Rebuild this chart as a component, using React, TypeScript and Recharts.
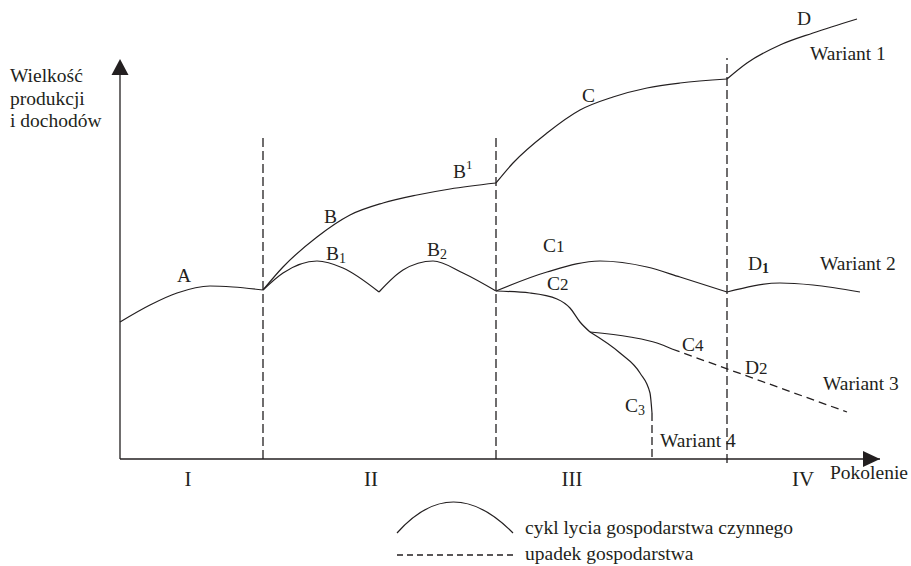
import React from 'react';
import { LineChart, Line, XAxis, YAxis, ReferenceLine, ReferenceDot } from 'recharts';

const phaseA = [
  { x: 0, y: 137 }, { x: 30, y: 154 }, { x: 57, y: 166 }, { x: 90, y: 173 }, { x: 113, y: 172 }, { x: 143, y: 169 },
];
const phaseB = [
  { x: 143, y: 169 }, { x: 163, y: 192 }, { x: 197, y: 222 }, { x: 230, y: 244 }, { x: 263, y: 256 },
  { x: 297, y: 264 }, { x: 330, y: 270 }, { x: 376, y: 276 },
];
const phaseC = [
  { x: 376, y: 276 }, { x: 393, y: 296 }, { x: 427, y: 326 }, { x: 460, y: 349 }, { x: 493, y: 362 },
  { x: 527, y: 371 }, { x: 560, y: 376 }, { x: 607, y: 380 },
];
const phaseD = [
  { x: 607, y: 380 }, { x: 627, y: 396 }, { x: 660, y: 414 }, { x: 693, y: 426 }, { x: 737, y: 440 },
];
const phaseB1 = [
  { x: 143, y: 169 }, { x: 163, y: 186 }, { x: 197, y: 198 }, { x: 223, y: 191 }, { x: 259, y: 167 },
];
const phaseB2 = [
  { x: 259, y: 167 }, { x: 283, y: 189 }, { x: 313, y: 198 }, { x: 343, y: 186 }, { x: 376, y: 168 },
];
const phaseC1 = [
  { x: 376, y: 168 }, { x: 427, y: 187 }, { x: 480, y: 198 }, { x: 527, y: 192 }, { x: 560, y: 182 }, { x: 607, y: 167 },
];
const phaseD1 = [
  { x: 607, y: 167 }, { x: 660, y: 176 }, { x: 693, y: 174 }, { x: 740, y: 167 },
];
const phaseC2 = [
  { x: 376, y: 168 }, { x: 410, y: 166 }, { x: 437, y: 160 }, { x: 450, y: 151 }, { x: 460, y: 137 }, { x: 470, y: 127 },
];
const phaseC4 = [
  { x: 470, y: 127 }, { x: 510, y: 122 }, { x: 537, y: 116 }, { x: 552, y: 110 },
];
const declineD2 = [
  { x: 552, y: 110 }, { x: 727, y: 47 },
];
const phaseC3 = [
  { x: 470, y: 127 }, { x: 500, y: 106 }, { x: 520, y: 86 }, { x: 530, y: 66 }, { x: 532, y: 46 },
];
const declineC3 = [
  { x: 532, y: 46 }, { x: 532, y: 0 },
];

// generation boundaries and their top ends
const boundaries = [
  { x: 143, top: 324 }, { x: 376, top: 324 }, { x: 607, top: 401 },
];
const phaseTicks = [68, 251, 452, 683];
const phaseNames = ['I', 'II', 'III', 'IV'];

const curveNames = [
  { x: 57, y: 177, text: 'A' },
  { x: 204, y: 236, text: 'B' },
  { x: 206, y: 199, text: 'B', sub: '1' },
  { x: 307, y: 203, text: 'B', sub: '2' },
  { x: 333, y: 281, text: 'B', sup: '1' },
  { x: 462, y: 357, text: 'C' },
  { x: 677, y: 434, text: 'D' },
  { x: 423, y: 207, text: 'C', tail: '1' },
  { x: 427, y: 169, text: 'C', tail: '2' },
  { x: 628, y: 189, text: 'D', sub: '1', bold: true },
  { x: 562, y: 108, text: 'C', tail: '4' },
  { x: 625, y: 85, text: 'D', tail: '2' },
  { x: 505, y: 47, text: 'C', sub: '3' },
  { x: 690, y: 399, text: 'Wariant 1' },
  { x: 700, y: 189, text: 'Wariant 2' },
  { x: 703, y: 69, text: 'Wariant 3' },
  { x: 540, y: 12, text: 'Wariant 4' },
];

const ink = '#231f20';
const serif = 'Liberation Serif, Times New Roman, DejaVu Serif, serif';

const UpArrow = ({ cx, cy }: any) => (
  <polygon points={`${cx},${cy} ${cx - 8.5},${cy + 16} ${cx + 8.5},${cy + 16}`} fill={ink} />
);
const RightArrow = ({ cx, cy }: any) => (
  <polygon points={`${cx},${cy} ${cx - 17},${cy - 8} ${cx - 17},${cy + 8}`} fill={ink} />
);

const nameShape = (n: any) => ({ cx, cy }: any) => (
  <text x={cx} y={cy} fill={ink} style={{ fontFamily: serif, fontSize: 19.5 }}>
    {n.text}
    {n.sub && <tspan fontSize={14} dy={3} fontWeight={n.bold ? 'bold' : 'normal'}>{n.sub}</tspan>}
    {n.sup && <tspan fontSize={13} dy={-9}>{n.sup}</tspan>}
    {n.tail && <tspan fontSize={17}>{n.tail}</tspan>}
  </text>
);

const PhaseTick = ({ x, y, payload }: any) => (
  <text x={x} y={y + 27} textAnchor="middle" fill={ink} style={{ fontFamily: serif, fontSize: 21 }}>
    {phaseNames[phaseTicks.indexOf(payload.value)]}
  </text>
);

const YTitle = () => (
  <text fill={ink} style={{ fontFamily: serif, fontSize: 19.5 }}>
    <tspan x={10} y={82}>Wielkość</tspan>
    <tspan x={10} y={105}>produkcji</tspan>
    <tspan x={10} y={127}>i dochodów</tspan>
  </text>
);

const XTitle = ({ viewBox }: any) => (
  <text x={viewBox.x + 710} y={viewBox.y + 20} fill={ink} style={{ fontFamily: serif, fontSize: 19.5 }}>
    Pokolenie
  </text>
);

const solid = (data: any[], key: string) => (
  <Line key={key} data={data} dataKey="y" type="monotone" stroke={ink} strokeWidth={1.2}
    dot={false} activeDot={false} isAnimationActive={false} />
);

export default function App() {
  return (
    <div style={{ position: 'relative', width: 911, height: 566, background: '#fff' }}>
      <style>{'body{margin:0}'}</style>
      <LineChart width={911} height={566} margin={{ top: 10, right: 31, bottom: 0, left: 0 }}>
        <XAxis dataKey="x" type="number" domain={[0, 760]} ticks={phaseTicks} interval={0}
          tick={<PhaseTick />} tickLine={false} tickSize={0} tickMargin={0} height={107}
          axisLine={{ stroke: ink, strokeWidth: 1.3 }} label={<XTitle />} />
        <YAxis type="number" domain={[0, 449]} width={120} axisLine={false} tick={false}
          tickLine={false} label={<YTitle />} />
        <ReferenceLine segment={[{ x: 0, y: 0 }, { x: 0, y: 392 }]} stroke={ink} strokeWidth={1.3} ifOverflow="visible" />
        <ReferenceDot x={0} y={400} r={1} shape={<UpArrow />} ifOverflow="visible" />
        <ReferenceDot x={760} y={0} r={1} shape={<RightArrow />} ifOverflow="visible" />
        {boundaries.map((b, i) => (
          <ReferenceLine key={i} segment={[{ x: b.x, y: i === 2 ? -4 : 0 }, { x: b.x, y: b.top }]}
            stroke={ink} strokeWidth={1.3} strokeDasharray="9 4" ifOverflow="visible" />
        ))}
        {solid(phaseA, 'A')}
        {solid(phaseB, 'B')}
        {solid(phaseC, 'C')}
        {solid(phaseD, 'D')}
        {solid(phaseB1, 'B1')}
        {solid(phaseB2, 'B2')}
        {solid(phaseC1, 'C1')}
        {solid(phaseD1, 'D1')}
        {solid(phaseC2, 'C2')}
        {solid(phaseC4, 'C4')}
        {solid(phaseC3, 'C3')}
        <Line data={declineD2} dataKey="y" type="linear" stroke={ink} strokeWidth={1.3} strokeDasharray="8 5"
          dot={false} activeDot={false} isAnimationActive={false} />
        <Line data={declineC3} dataKey="y" type="linear" stroke={ink} strokeWidth={1.3} strokeDasharray="8 4"
          dot={false} activeDot={false} isAnimationActive={false} />
        {curveNames.map((n, i) => (
          <ReferenceDot key={'n' + i} x={n.x} y={n.y} r={1} shape={nameShape(n)} ifOverflow="visible" />
        ))}
      </LineChart>
      <svg width={420} height={71} style={{ position: 'absolute', left: 395, top: 495 }}>
        <path d="M2 38 Q57 -24 118 38" fill="none" stroke={ink} strokeWidth={1.2} />
        <text x={130} y={39} fill={ink} style={{ fontFamily: serif, fontSize: 19.5 }}>cykl lycia gospodarstwa czynnego</text>
        <line x1={2} y1={60} x2={118} y2={60} stroke={ink} strokeWidth={1.3} strokeDasharray="6 4" />
        <text x={130} y={65} fill={ink} style={{ fontFamily: serif, fontSize: 19.5 }}>upadek gospodarstwa</text>
      </svg>
    </div>
  );
}
